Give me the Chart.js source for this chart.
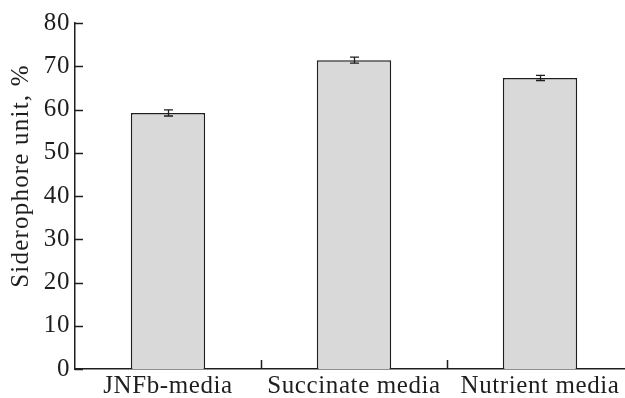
<!DOCTYPE html>
<html>
<head>
<meta charset="utf-8">
<script src="https://cdn.jsdelivr.net/npm/chart.js@4/dist/chart.umd.min.js"></script>
<style>
  html, body { margin: 0; padding: 0; background: #fff; overflow: hidden; }
  #wrap { position: relative; width: 645px; height: 398px; }
</style>
</head>
<body>
<div id="wrap"><canvas id="chart"></canvas></div>
<script>
// chart data
const categories = ['JNFb-media', 'Succinate media', 'Nutrient media'];
const siderophore = [59.2, 71.4, 67.3];
const errors = [0.7, 0.7, 0.6];
const yTicks = [0, 10, 20, 30, 40, 50, 60, 70, 80];
const yTitle = 'Siderophore unit, %';

const ink = '#1e1e1e';
const serif = 'Liberation Serif';

// the original lettering is set a touch wide
const wideText = {
    id: 'wideText',
    beforeDraw(chart) {
        chart.ctx.letterSpacing = '0.6px';
    }
};

// inward tick marks on both axes
const innerTicks = {
    id: 'innerTicks',
    afterDraw(chart) {
        const c = chart.ctx;
        const x = chart.scales.x, y = chart.scales.y;
        const area = chart.chartArea;
        c.save();
        c.strokeStyle = ink;
        c.lineWidth = 1.5;
        c.beginPath();
        yTicks.forEach(v => {
            const py = Math.round(y.getPixelForValue(v)) + 0.5;
            c.moveTo(area.left, py);
            c.lineTo(area.left + 8, py);
        });
        // ticks between categories
        for (let i = 0; i < categories.length - 1; i++) {
            const px = Math.round((x.getPixelForValue(i) + x.getPixelForValue(i + 1)) / 2) + 0.5;
            c.moveTo(px, area.bottom);
            c.lineTo(px, area.bottom - 9);
        }
        c.stroke();
        c.restore();
    }
};

// error bars on top of each bar
const errorBars = {
    id: 'errorBars',
    afterDatasetsDraw(chart) {
        const c = chart.ctx;
        const y = chart.scales.y;
        const meta = chart.getDatasetMeta(0);
        c.save();
        c.strokeStyle = ink;
        c.lineWidth = 1.3;
        meta.data.forEach((bar, i) => {
            const px = Math.round(bar.x) + 0.5;
            const top = y.getPixelForValue(siderophore[i] + errors[i]);
            const bot = y.getPixelForValue(siderophore[i] - errors[i]);
            c.beginPath();
            c.moveTo(px, top); c.lineTo(px, bot);
            c.moveTo(px - 4.5, top); c.lineTo(px + 4.5, top);
            c.moveTo(px - 4.5, bot); c.lineTo(px + 4.5, bot);
            c.stroke();
        });
        c.restore();
    }
};

// y axis title, sits a bit above the axis middle like the original
const axisTitle = {
    id: 'axisTitle',
    afterDraw(chart) {
        const c = chart.ctx;
        c.save();
        c.fillStyle = ink;
        c.font = '25px "Liberation Serif"';
        c.letterSpacing = '1.2px';
        c.textAlign = 'center';
        c.textBaseline = 'middle';
        c.translate(21, 176);
        c.rotate(-Math.PI / 2);
        c.fillText(yTitle, 0, 0);
        c.restore();
    }
};

new Chart(document.getElementById('chart'), {
    type: 'bar',
    data: {
        labels: categories,
        datasets: [{
            data: siderophore,
            backgroundColor: '#d9d9d9',
            borderColor: ink,
            borderWidth: 1.5,
            barPercentage: 0.4,
            categoryPercentage: 1.0
        }]
    },
    options: {
        responsive: true,
        maintainAspectRatio: false,
        animation: false,
        layout: { padding: { top: 23, right: 12, left: 0, bottom: 0 } },
        plugins: { legend: { display: false }, tooltip: { enabled: false } },
        scales: {
            x: {
                grid: { display: false, drawTicks: false },
                border: { display: true, color: ink, width: 1.5 },
                ticks: { color: ink, font: { family: serif, size: 25 }, padding: 2, maxRotation: 0, autoSkip: false },
                afterFit(scale) { scale.height = 29; }
            },
            y: {
                min: 0,
                max: 80,
                grid: { display: false, drawTicks: false },
                border: { display: true, color: ink, width: 1.5 },
                ticks: { stepSize: 10, color: ink, font: { family: serif, size: 25 }, padding: 5 },
                afterFit(scale) { scale.width = 75; }
            }
        }
    },
    plugins: [wideText, innerTicks, errorBars, axisTitle]
});
</script>
</body>
</html>
